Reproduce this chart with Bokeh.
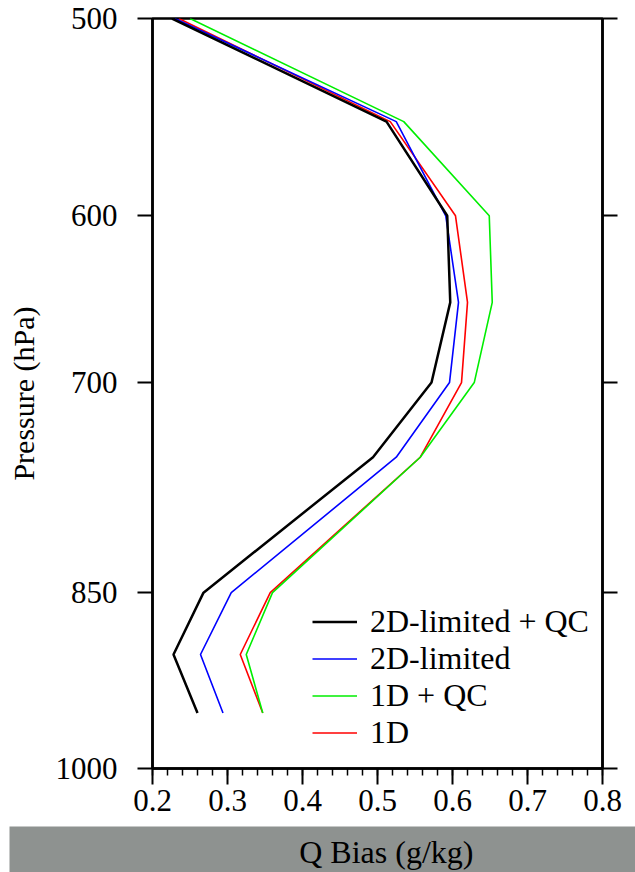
from bokeh.plotting import figure
from bokeh.layouts import column
from bokeh.models import (Range1d, FixedTicker, LogAxis, PrintfTickFormatter,
                          CustomJSTickFormatter, Legend, LegendItem, Label)
from bokeh.embed import file_html
from bokeh.resources import INLINE
import numpy as np

# ---- data ----
pressure = [500, 550, 600, 650, 700, 750, 850, 900, 950]
q_2d_limited_qc = [0.226, 0.512, 0.593, 0.597, 0.572, 0.494, 0.268, 0.228, 0.260]
q_2d_limited = [0.230, 0.525, 0.591, 0.608, 0.596, 0.525, 0.305, 0.264, 0.294]
q_1d_qc = [0.250, 0.535, 0.649, 0.653, 0.629, 0.557, 0.360, 0.325, 0.347]
q_1d = [0.235, 0.517, 0.604, 0.620, 0.612, 0.557, 0.357, 0.317, 0.347]

series_labels = ["2D-limited + QC", "2D-limited", "1D + QC", "1D"]
y_ticks = [500, 600, 700, 850, 1000]
x_ticks = [0.2, 0.3, 0.4, 0.5, 0.6, 0.7, 0.8]
x_title = "Q Bias (g/kg)"
y_title = "Pressure (hPa)"

FONT = "Liberation Serif"

p = figure(width=635, height=826, y_axis_type="log",
           x_range=Range1d(0.2, 0.8), y_range=Range1d(1000, 500),
           output_backend="svg", toolbar_location=None,
           min_border_left=152, min_border_right=33,
           min_border_top=18, min_border_bottom=58)
p.frame_align = False

p.grid.visible = False
p.outline_line_color = "black"
p.outline_line_width = 2.5
p.background_fill_color = "white"
p.border_fill_color = "white"

# x axis
xa = p.xaxis[0]
xa.ticker = FixedTicker(ticks=x_ticks,
                        minor_ticks=list(np.round(np.arange(0.2, 0.8001, 0.02), 2)))
xa.major_label_text_font = FONT
xa.major_label_text_font_size = "31px"
xa.major_label_text_color = "black"
xa.major_label_standoff = 5
xa.major_tick_out = 16
xa.major_tick_in = 0
xa.minor_tick_out = 7
xa.minor_tick_in = 0
xa.axis_line_width = 2.5
xa.major_tick_line_width = 2
xa.minor_tick_line_width = 1.5

# left y axis
ya = p.yaxis[0]
ya.ticker = FixedTicker(ticks=y_ticks, minor_ticks=[])
ya.formatter = PrintfTickFormatter(format="%d")
ya.axis_label = y_title
ya.axis_label_text_font = FONT
ya.axis_label_text_font_style = "normal"
ya.axis_label_text_font_size = "30px"
ya.axis_label_text_color = "black"
ya.axis_label_standoff = 13
ya.major_label_text_font = FONT
ya.major_label_text_font_size = "31px"
ya.major_label_text_color = "black"
ya.major_label_standoff = 20
ya.major_tick_out = 15
ya.major_tick_in = 0
ya.minor_tick_out = 0
ya.minor_tick_in = 0
ya.axis_line_width = 2.5
ya.major_tick_line_width = 2

# right y axis (ticks only)
ra = LogAxis(ticker=FixedTicker(ticks=y_ticks, minor_ticks=[]),
             formatter=CustomJSTickFormatter(code="return ''"))
ra.major_tick_out = 15
ra.major_tick_in = 0
ra.minor_tick_out = 0
ra.minor_tick_in = 0
ra.axis_line_width = 2.5
ra.major_tick_line_width = 2
ra.major_label_standoff = 0
p.add_layout(ra, "right")

# lines
r_red = p.line(q_1d, pressure, line_color="#ff0000", line_width=1.6)
r_green = p.line(q_1d_qc, pressure, line_color="#00ee00", line_width=1.6)
r_blue = p.line(q_2d_limited, pressure, line_color="#0000ff", line_width=1.6)
r_black = p.line(q_2d_limited_qc, pressure, line_color="black", line_width=2.5)

legend = Legend(items=[
    LegendItem(label=series_labels[0], renderers=[r_black]),
    LegendItem(label=series_labels[1], renderers=[r_blue]),
    LegendItem(label=series_labels[2], renderers=[r_green]),
    LegendItem(label=series_labels[3], renderers=[r_red]),
], location=(160, 17), orientation="vertical")
legend.label_text_font = FONT
legend.label_text_font_size = "32px"
legend.label_text_color = "black"
legend.glyph_width = 45
legend.glyph_height = 35
legend.label_height = 35
legend.label_standoff = 13
legend.spacing = 0
legend.padding = 0
legend.margin = 0
legend.border_line_alpha = 0
legend.background_fill_alpha = 0
p.add_layout(legend)

# gray band at the bottom, carrying the x-axis title
band = figure(width=635, height=46, x_range=Range1d(0, 1), y_range=Range1d(0, 1),
              output_backend="svg", toolbar_location=None,
              x_axis_location=None, y_axis_location=None,
              min_border_left=9, min_border_right=0,
              min_border_top=0, min_border_bottom=0)
band.frame_align = False
band.grid.visible = False
band.outline_line_alpha = 0
band.background_fill_color = "#8e9290"
band.border_fill_color = "white"
band.add_layout(Label(x=0.602, y=0.45, text=x_title, text_font=FONT,
                      text_font_size="32px", text_align="center",
                      text_baseline="middle", text_color="black"))

layout = column(p, band, spacing=0)

open("out.html", "w").write(file_html(layout, INLINE))
